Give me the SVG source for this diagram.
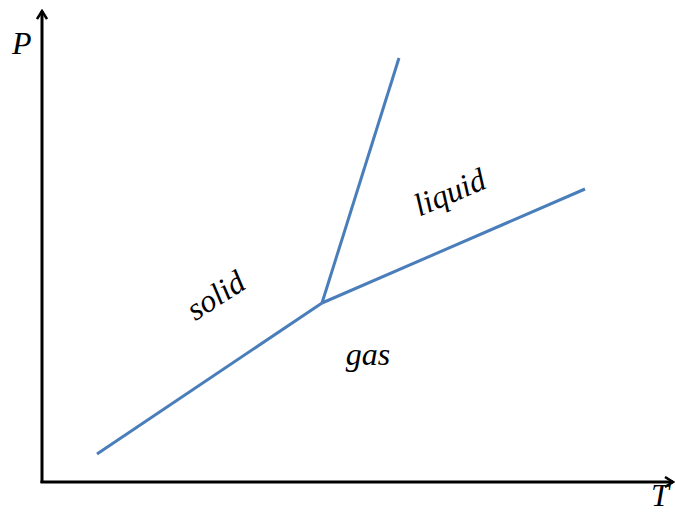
<svg xmlns="http://www.w3.org/2000/svg" width="675" height="513" viewBox="0 0 675 513">
<defs>
<style>
.axis{stroke:#000;stroke-width:3;fill:none}
.curve{stroke:#4a7ebb;stroke-width:3;fill:none}
.lbl{font-family:"Liberation Serif",serif;font-style:italic;font-size:32px;fill:#000}
</style>
<marker id="arr" viewBox="0 0 12 12" refX="10" refY="6" markerWidth="12" markerHeight="12" markerUnits="userSpaceOnUse" orient="auto">
<path d="M2,1 L10,6 L2,11" fill="none" stroke="#000" stroke-width="2.5"/>
</marker>
</defs>
<rect width="675" height="513" fill="#fff"/>
<g id="axes">
<line class="axis" x1="42" y1="483" x2="42" y2="11" marker-end="url(#arr)"/>
<line class="axis" x1="40.5" y1="482" x2="673" y2="482" marker-end="url(#arr)"/>
<text class="lbl" x="12" y="54" font-size="30">P</text>
<text class="lbl" x="651" y="506" font-size="29">T</text>
</g>
<g id="connectors">
<line class="curve" x1="97" y1="454" x2="322" y2="303"/>
<line class="curve" x1="322" y1="303" x2="399" y2="58"/>
<line class="curve" x1="322" y1="303" x2="585" y2="189"/>
</g>
<g id="solid"><text class="lbl" transform="translate(216,296) rotate(-33)" text-anchor="middle" dy="10">solid</text></g>
<g id="liquid"><text class="lbl" transform="translate(450,193) rotate(-23)" text-anchor="middle" dy="10">liquid</text></g>
<g id="gas"><text class="lbl" x="368" y="365" text-anchor="middle">gas</text></g>
</svg>
